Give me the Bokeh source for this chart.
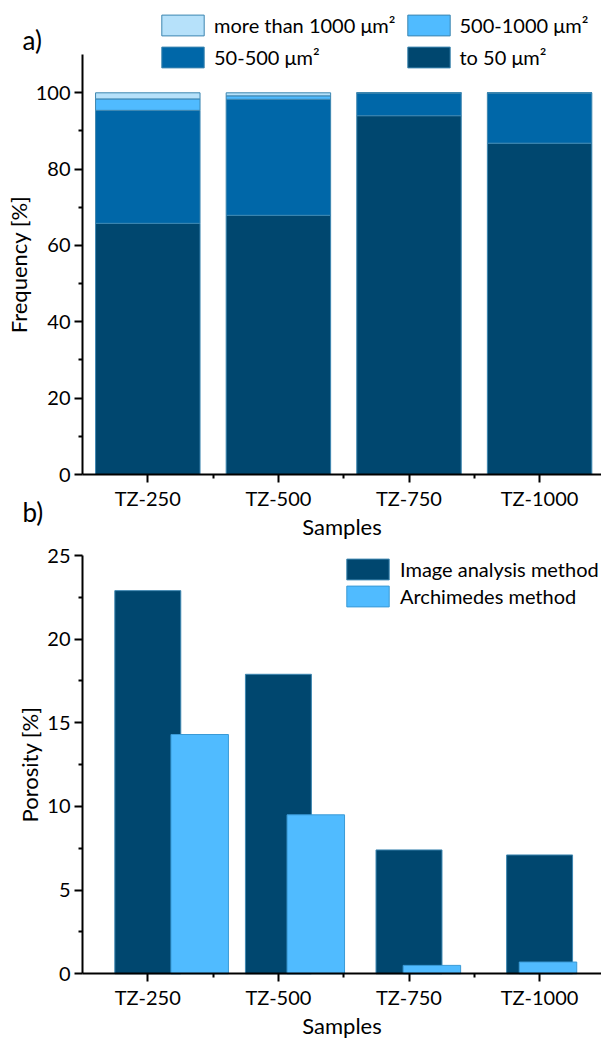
from bokeh.plotting import figure
from bokeh.models import (Range1d, FixedTicker, Label, Legend, LegendItem,
                          ColumnDataSource)
from bokeh.layouts import column
from bokeh.embed import file_html
from bokeh.resources import INLINE

# ---------------- data ----------------
samples = ["TZ-250", "TZ-500", "TZ-750", "TZ-1000"]
size_classes = ["to 50 μm²", "50-500 μm²", "500-1000 μm²", "more than 1000 μm²"]
freq_to50 = [65.8, 67.9, 94.0, 86.8]
freq_50_500 = [29.6, 30.4, 6.0, 13.2]
freq_500_1000 = [3.0, 0.9, 0.0, 0.0]
freq_over1000 = [1.6, 0.8, 0.0, 0.0]
freq_ticks = [0, 20, 40, 60, 80, 100]
freq_minor = [10, 30, 50, 70, 90]
freq_axis_max = 110

methods = ["Image analysis method", "Archimedes method"]
porosity_image = [22.9, 17.9, 7.4, 7.1]
porosity_archimedes = [14.3, 9.5, 0.5, 0.7]
por_ticks = [0, 5, 10, 15, 20, 25]
por_minor = [2.5, 7.5, 12.5, 17.5, 22.5]
por_axis_max = 25

# ---------------- layout / style ----------------
FONT = "Lato"
C_DARK = "#00476F"
C_MID = "#0067A8"
C_LIGHT = "#50BBFF"
C_PALE = "#B6E1FA"
OUTLINE = "#3D86B0"

FIG_W = 601
H1, H2 = 540, 499
AX_LEFT = 82          # px from figure left to the y axis
CAT_PX = 130.6        # px per sample
x_pos = [i + 0.5 for i in range(len(samples))]
x_minor = [i for i in range(1, len(samples))]
xs = -AX_LEFT / CAT_PX
xe = xs + FIG_W / CAT_PX

# top panel: 0 at 474 px from figure top, 3.817 px per %
PX1 = 3.817
ye1 = 474 / PX1
ys1 = ye1 - H1 / PX1
# bottom panel: 25 at 15 px from its top, 16.73 px per %
PX2 = 16.73
ye2 = por_axis_max + 15 / PX2
ys2 = ye2 - H2 / PX2


def style(p, ylabel, ymax):
    p.xgrid.visible = False
    p.ygrid.visible = False
    p.outline_line_color = None
    p.background_fill_color = "white"
    p.border_fill_color = "white"
    for ax in (p.xaxis[0], p.yaxis[0]):
        ax.fixed_location = 0
        ax.axis_line_width = 2
        ax.axis_line_color = "black"
        ax.major_tick_line_width = 2
        ax.minor_tick_line_width = 2
        ax.major_tick_line_color = "black"
        ax.minor_tick_line_color = "black"
        ax.major_tick_out = 8
        ax.major_tick_in = 0
        ax.minor_tick_out = 4
        ax.minor_tick_in = 0
        ax.major_label_text_font = FONT
        ax.major_label_text_font_size = "20px"
        ax.major_label_text_color = "black"
        ax.axis_label_text_font = FONT
        ax.axis_label_text_font_size = "22px"
        ax.axis_label_text_font_style = "normal"
        ax.axis_label_text_color = "black"
    p.xaxis[0].bounds = (0, xe)
    p.yaxis[0].bounds = (0, ymax)
    p.xaxis[0].ticker = FixedTicker(ticks=x_pos, minor_ticks=x_minor)
    p.xaxis[0].major_label_overrides = {x: s for x, s in zip(x_pos, samples)}
    p.xaxis[0].axis_label = "Samples"
    p.yaxis[0].axis_label = ylabel
    p.xaxis[0].major_label_standoff = 3
    p.xaxis[0].axis_label_standoff = 0
    p.yaxis[0].major_label_standoff = 4
    p.yaxis[0].axis_label_standoff = 1


def legend(items, loc, spacing, standoff):
    return Legend(items=items, location=loc, glyph_width=53, glyph_height=26,
                  label_standoff=standoff, spacing=spacing, padding=0, margin=0,
                  border_line_color=None, background_fill_alpha=0,
                  label_text_font=FONT, label_text_font_size="20px",
                  label_text_color="black")


# ---------------- (a) stacked frequency ----------------
src1 = ColumnDataSource(dict(x=x_pos, to50=freq_to50, s50_500=freq_50_500,
                             s500_1000=freq_500_1000, over1000=freq_over1000))

p1 = figure(width=FIG_W, height=H1, x_range=Range1d(xs, xe),
            y_range=Range1d(ys1, ye1), output_backend="svg",
            toolbar_location=None, min_border=0)
rs = p1.vbar_stack(["to50", "s50_500", "s500_1000", "over1000"], x="x",
                   width=0.8, source=src1,
                   fill_color=[C_DARK, C_MID, C_LIGHT, C_PALE],
                   line_color=OUTLINE, line_width=1)
style(p1, "Frequency [%]", freq_axis_max)
p1.yaxis[0].ticker = FixedTicker(ticks=freq_ticks, minor_ticks=freq_minor)

# column-major order: left column (>1000, 50-500), right column (500-1000, <50)
leg1 = legend([LegendItem(label=size_classes[3], renderers=[rs[3]]),
               LegendItem(label=size_classes[1], renderers=[rs[1]]),
               LegendItem(label=size_classes[2], renderers=[rs[2]]),
               LegendItem(label=size_classes[0], renderers=[rs[0]])],
              (156, H1 - 70), 6, 5)
leg1.ncols = 2
p1.add_layout(leg1)

p1.add_layout(Label(x=22, y=H1 - 39, x_units="screen", y_units="screen",
                    text="a)", text_font=FONT, text_font_size="26px",
                    text_baseline="middle", text_color="black"))
p1.add_layout(Label(x=22, y=H1 - 511, x_units="screen", y_units="screen",
                    text="b)", text_font=FONT, text_font_size="26px",
                    text_baseline="middle", text_color="black"))

# ---------------- (b) porosity ----------------
ARCH_PX = 116.1
arch_start = 0.5 - 199.2 / ARCH_PX
arch_end = arch_start + FIG_W / ARCH_PX

src2 = ColumnDataSource(dict(x=x_pos, image=porosity_image,
                             arch=porosity_archimedes))
p2 = figure(width=FIG_W, height=H2, x_range=Range1d(xs, xe),
            y_range=Range1d(ys2, ye2), output_backend="svg",
            toolbar_location=None, min_border=0)
p2.extra_x_ranges = {"arch": Range1d(arch_start, arch_end)}
r_img = p2.vbar(x="x", top="image", width=0.505, source=src2,
                fill_color=C_DARK, line_color=OUTLINE, line_width=1)
r_arch = p2.vbar(x="x", top="arch", width=0.495, source=src2,
                 x_range_name="arch",
                 fill_color=C_LIGHT, line_color="#3A9AD6", line_width=1)
style(p2, "Porosity [%]", por_axis_max)
p2.yaxis[0].ticker = FixedTicker(ticks=por_ticks, minor_ticks=por_minor)

leg2 = legend([LegendItem(label=methods[0], renderers=[r_img]),
               LegendItem(label=methods[1], renderers=[r_arch])],
              (341, H2 - 69), 1, 6)
p2.add_layout(leg2)

layout = column(p1, p2, spacing=0)
open("out.html", "w").write(file_html(layout, INLINE))
